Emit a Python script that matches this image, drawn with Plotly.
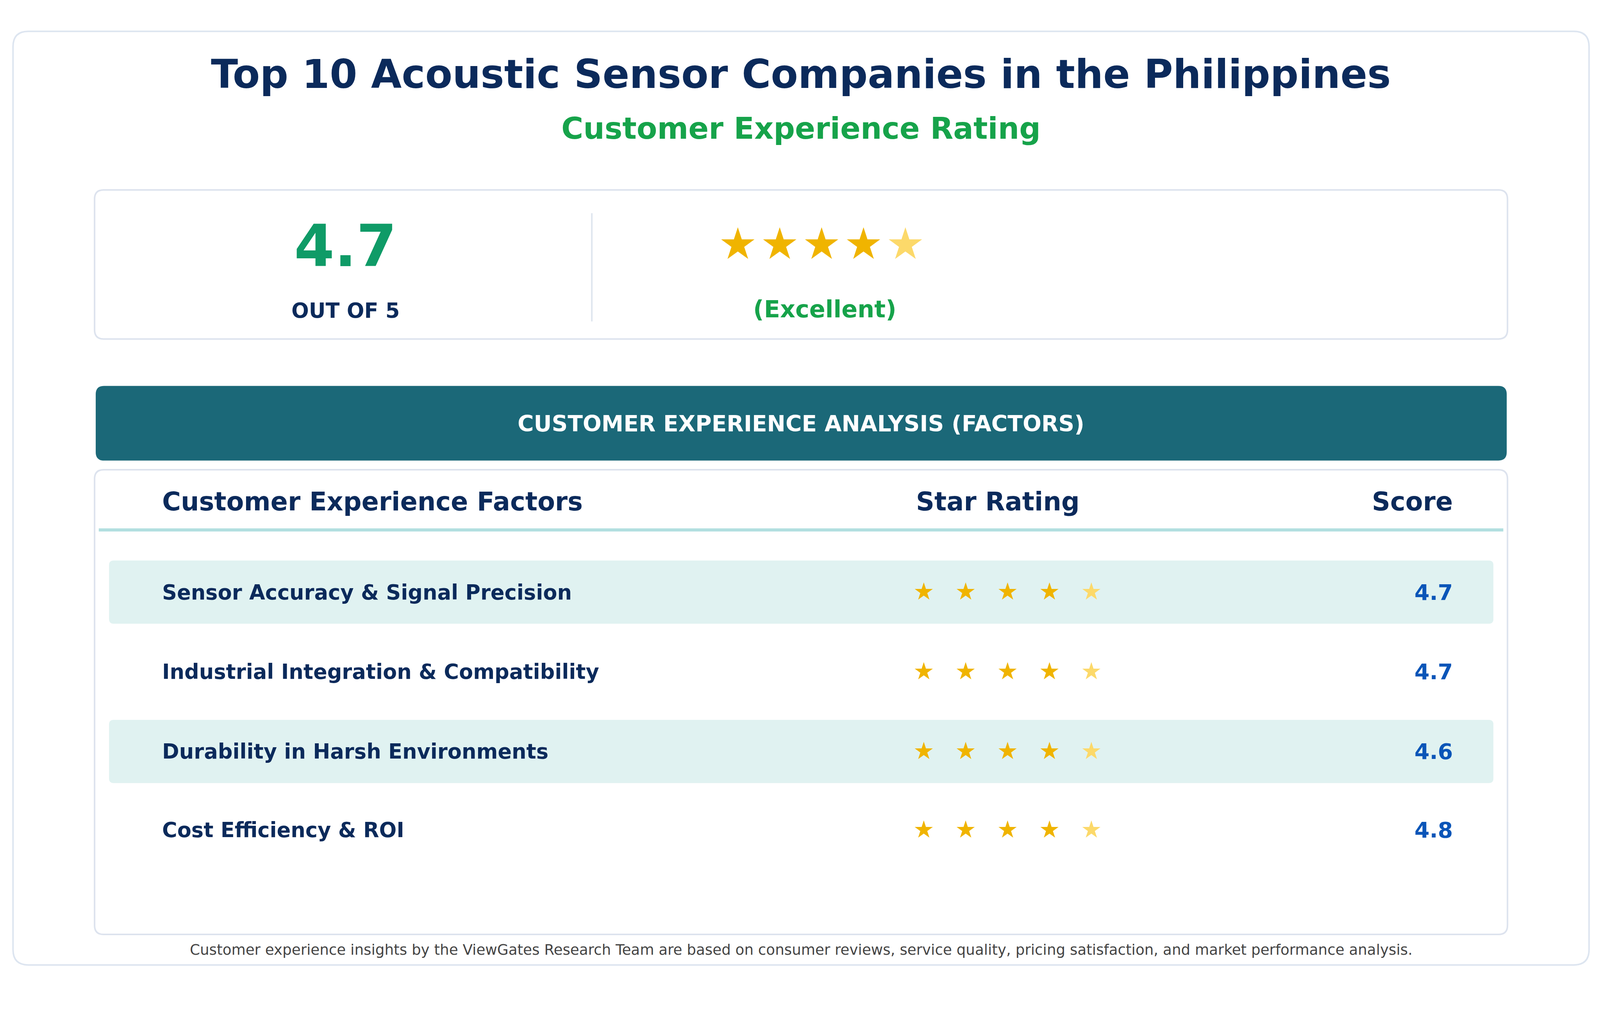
import math
import plotly.graph_objects as go

title = "Top 10 Acoustic Sensor Companies in the Philippines"
subtitle = "Customer Experience Rating"
overall_score = 4.7
overall_label = "(Excellent)"
factors = ["Sensor Accuracy & Signal Precision", "Industrial Integration & Compatibility",
           "Durability in Harsh Environments", "Cost Efficiency & ROI"]
scores = [4.7, 4.7, 4.6, 4.8]
col_headers = ["Customer Experience Factors", "Star Rating", "Score"]
footer = ("Customer experience insights by the ViewGates Research Team are based on consumer reviews, "
          "service quality, pricing satisfaction, and market performance analysis.")

W, H = 4200, 2610
S = 0.9755  # page rendering scale
OFF = 6    # page body margin compensation
NAVY = "#0b2a5b"
GREEN = "#16a34a"
STAR = "#f0b400"
STAR_L = "#fcd96a"
FONT = "DejaVu Sans"

def rrect(x0, y0, x1, y1, r):
    return (f"M{x0+r},{y0} L{x1-r},{y0} Q{x1},{y0} {x1},{y0+r} L{x1},{y1-r} Q{x1},{y1} {x1-r},{y1} "
            f"L{x0+r},{y1} Q{x0},{y1} {x0},{y1-r} L{x0},{y0+r} Q{x0},{y0} {x0+r},{y0} Z")

fig = go.Figure()
shapes = []
shapes.append(dict(type="path", path=rrect(32, 80, 4168, 2529, 40), line=dict(color="#dde5f0", width=4), fillcolor="white", layer="below"))
shapes.append(dict(type="path", path=rrect(246, 496, 3954, 887, 24), line=dict(color="#dde3ee", width=4), fillcolor="white", layer="below"))
shapes.append(dict(type="line", x0=1551, x1=1551, y0=557, y1=841, line=dict(color="#dfe6ef", width=4)))
shapes.append(dict(type="path", path=rrect(249, 1010, 3952, 1206, 22), line=dict(width=0), fillcolor="#1b6878", layer="below"))
shapes.append(dict(type="path", path=rrect(246, 1230, 3954, 2449, 24), line=dict(color="#dde3ee", width=4), fillcolor="white", layer="below"))
shapes.append(dict(type="line", x0=257, x1=3943, y0=1388, y1=1388, line=dict(color="#b2dfe0", width=8)))

row_y = [1551, 1760, 1969, 2175]
for i, y in enumerate(row_y):
    if i % 2 == 0:
        shapes.append(dict(type="path", path=rrect(284, y - 83, 3917, y + 83, 12), line=dict(width=0), fillcolor="#e0f2f1", layer="below"))

ann = []
def t(x, y, s, size, color, anchor="center", bold=True):
    ann.append(dict(x=x, y=y, text=f"<b>{s}</b>" if bold else s, showarrow=False, xanchor=anchor, yanchor="middle",
                    font=dict(family=FONT, size=size * S, color=color)))

t(2100, 193, title, 104, NAVY)
t(2100, 335, subtitle, 78.5, GREEN)
t(905, 643, f"{overall_score}", 152, "#0f9b67")
t(905, 812, "OUT OF 5", 54, NAVY)
t(2162, 809, overall_label, 62, GREEN)
t(2100, 1109, "CUSTOMER EXPERIENCE ANALYSIS (FACTORS)", 58, "white")
t(421, 1313, col_headers[0], 67, NAVY, "left")
t(2617, 1313, col_headers[1], 67, NAVY)
t(3812, 1313, col_headers[2], 67, NAVY, "right")
for f, s, y in zip(factors, scores, row_y):
    t(421, y, f, 54, NAVY, "left")
    t(3812, y, f"{s}", 57, "#0a55b8", "right")
t(2100, 2489, footer, 38.2, "#444444", bold=False)

def star_trace(xs, ys, colors, size):
    fig.add_trace(go.Scatter(x=xs, y=ys, mode="text", text=["★"] * len(xs),
                             textfont=dict(family=FONT, size=size * S, color=colors), hoverinfo="skip"))

def star_colors(score):
    full = int(math.floor(score))
    return [STAR if k < full else STAR_L for k in range(5)]

star_trace([1934 + 110 * k for k in range(5)], [648] * 5, star_colors(overall_score), 114)
for s, y in zip(scores, row_y):
    star_trace([2422 + 110 * k for k in range(5)], [y + 4] * 5, star_colors(s), 62)

fig.update_layout(width=round(W * S), height=round(H * S), margin=dict(l=0, r=0, t=0, b=0), showlegend=False,
                  paper_bgcolor="white", plot_bgcolor="white", shapes=shapes, annotations=ann,
                  xaxis=dict(range=[OFF, W + OFF], visible=False, fixedrange=True),
                  yaxis=dict(range=[H + OFF, OFF], visible=False, fixedrange=True))
fig.write_html("out.html")
